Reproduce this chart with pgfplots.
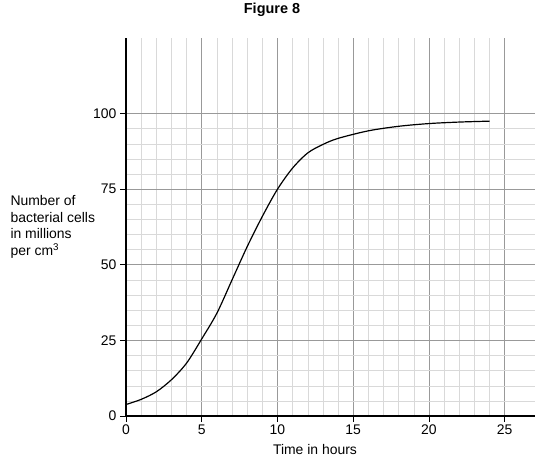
\documentclass[border=0pt]{standalone}
\usepackage{pgfplots}
\pgfplotsset{compat=1.18}
\usepackage{fontspec}
\setmainfont{Liberation Sans}
\begin{document}
\begin{tikzpicture}[x=1bp,y=1bp]
\useasboundingbox (-126,-54) rectangle (413,416);
\begin{axis}[
  at={(0,0)}, anchor=origin,
  scale only axis,
  width=409bp, height=378bp,
  xmin=0, xmax=27, ymin=0, ymax=125,
  xtick={0,5,10,15,20,25},
  ytick={0,25,50,75,100},
  minor x tick num=4,
  minor y tick num=4,
  grid=both,
  major grid style={gray!80, line width=0.6pt},
  minor grid style={gray!30, line width=0.5pt},
  axis x line*=bottom, axis y line*=left,
  axis line style={black, line width=1.1pt, -},
  tick style={black, line width=0.6pt},
  major tick length=6bp,
  minor tick length=0pt,
  tick align=outside,
  ticklabel style={font=\fontsize{14}{16}\selectfont},
  xticklabel style={yshift=1bp},
  /pgf/number format/assume math mode=true,
  clip=false,
]
\addplot[black, line width=1.2pt, smooth, tension=0.5] coordinates {
(0,3.8) (1,5.5) (2,8) (3,12) (4,17.5) (5,25.5) (6,34) (7,45) (8,56) (9,66) (10,75) (11,82) (12,87) (13,89.8) (14,91.8) (16,94.3) (18,95.8) (20,96.7) (22,97.2) (24,97.5)
};
\end{axis}
\node[font=\bfseries\fontsize{14.5}{16}\selectfont] at (146,406) {Figure 8};
\node[anchor=west, align=left, font=\fontsize{14}{16.5}\selectfont] at (-119,189) {Number of\\bacterial cells\\in millions\\per cm\textsuperscript{3}};
\node[font=\fontsize{14}{16}\selectfont] at (189,-34) {Time in hours};
\end{tikzpicture}
\end{document}
